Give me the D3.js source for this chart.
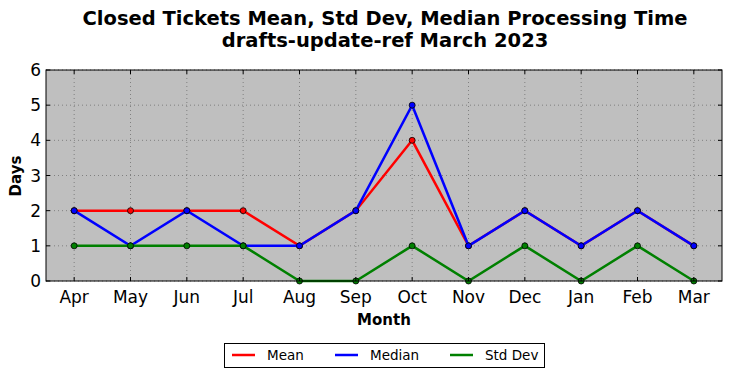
<!DOCTYPE html>
<html><head><meta charset="utf-8">
<script src="https://cdn.jsdelivr.net/npm/d3@7"></script>
<style>body{margin:0;background:#fff}svg{display:block}text{font-family:"DejaVu Sans",sans-serif}</style>
</head><body><svg id="c" width="732" height="378"></svg>
<script>
const months = ["Apr","May","Jun","Jul","Aug","Sep","Oct","Nov","Dec","Jan","Feb","Mar"];
const meanVals = [2,2,2,2,1,2,4,1,2,1,2,1];
const medianVals = [2,1,2,1,1,2,5,1,2,1,2,1];
const stdVals = [1,1,1,1,0,0,1,0,1,0,1,0];
const yTicks = [0,1,2,3,4,5,6];
const seriesNames = ["Mean","Median","Std Dev"];
const seriesColors = ["#ff0000","#0000ff","#008000"];
const seriesData = [meanVals, medianVals, stdVals];

const svg = d3.select("#c");
const L=46,R=722,T=70,B=281;
const x = d3.scaleLinear().domain([-0.5, months.length-0.5]).range([L,R]);
const y = d3.scaleLinear().domain([0,6]).range([B,T]);

svg.append("rect").attr("x",L).attr("y",T).attr("width",R-L).attr("height",B-T).attr("fill","#bfbfbf");
const g = svg.append("g");
months.forEach((m,i)=>{
  g.append("line").attr("x1",x(i)).attr("x2",x(i)).attr("y1",T).attr("y2",B)
   .attr("stroke","#707070").attr("stroke-width",0.8).attr("stroke-dasharray","1,3");
});
yTicks.forEach(v=>{
  g.append("line").attr("x1",L).attr("x2",R).attr("y1",y(v)).attr("y2",y(v))
   .attr("stroke","#707070").attr("stroke-width",0.8).attr("stroke-dasharray","1,3");
});
const line = d3.line().x((d,i)=>x(i)).y(d=>y(d));
seriesData.forEach((data,k)=>{
  svg.append("path").datum(data).attr("d",line).attr("fill","none")
    .attr("stroke",seriesColors[k]).attr("stroke-width",2.5).attr("stroke-linejoin","miter");
  svg.selectAll(null).data(data).enter().append("circle")
    .attr("cx",(d,i)=>x(i)).attr("cy",d=>y(d)).attr("r",3)
    .attr("fill",seriesColors[k]).attr("stroke","#000").attr("stroke-width",0.8);
});
svg.append("rect").attr("x",L).attr("y",T).attr("width",R-L).attr("height",B-T)
  .attr("fill","none").attr("stroke","#000").attr("stroke-width",1);
months.forEach((m,i)=>{
  svg.append("line").attr("x1",x(i)).attr("x2",x(i)).attr("y1",B).attr("y2",B-4).attr("stroke","#000");
  svg.append("line").attr("x1",x(i)).attr("x2",x(i)).attr("y1",T).attr("y2",T+4).attr("stroke","#000");
  svg.append("text").attr("x",x(i)).attr("y",B+22).attr("text-anchor","middle")
    .attr("font-size",17).text(m);
});
yTicks.forEach(v=>{
  svg.append("line").attr("x1",L).attr("x2",L+4).attr("y1",y(v)).attr("y2",y(v)).attr("stroke","#000");
  svg.append("line").attr("x1",R).attr("x2",R-4).attr("y1",y(v)).attr("y2",y(v)).attr("stroke","#000");
  svg.append("text").attr("x",L-5).attr("y",y(v)+6).attr("text-anchor","end")
    .attr("font-size",17).text(v);
});
svg.append("text").attr("x",385).attr("y",25).attr("text-anchor","middle").attr("font-size",19.5).attr("font-weight","bold")
  .text("Closed Tickets Mean, Std Dev, Median Processing Time");
svg.append("text").attr("x",385).attr("y",47).attr("text-anchor","middle").attr("font-size",19.5).attr("font-weight","bold")
  .text("drafts-update-ref March 2023");
svg.append("text").attr("x",384).attr("y",325).attr("text-anchor","middle").attr("font-size",15).attr("font-weight","bold").text("Month");
svg.append("text").attr("transform","translate(21,176) rotate(-90)").attr("text-anchor","middle").attr("font-size",15).attr("font-weight","bold").text("Days");
const lg = svg.append("g");
lg.append("rect").attr("x",224.5).attr("y",343.5).attr("width",320).attr("height",24).attr("fill","#fff").attr("stroke","#000");
const lx=[232,335,450];
seriesNames.forEach((n,k)=>{
  lg.append("line").attr("x1",lx[k]).attr("x2",lx[k]+23).attr("y1",355).attr("y2",355).attr("stroke",seriesColors[k]).attr("stroke-width",2.5);
  lg.append("text").attr("x",lx[k]+35).attr("y",360).attr("font-size",13.5).text(n);
});
</script></body></html>
